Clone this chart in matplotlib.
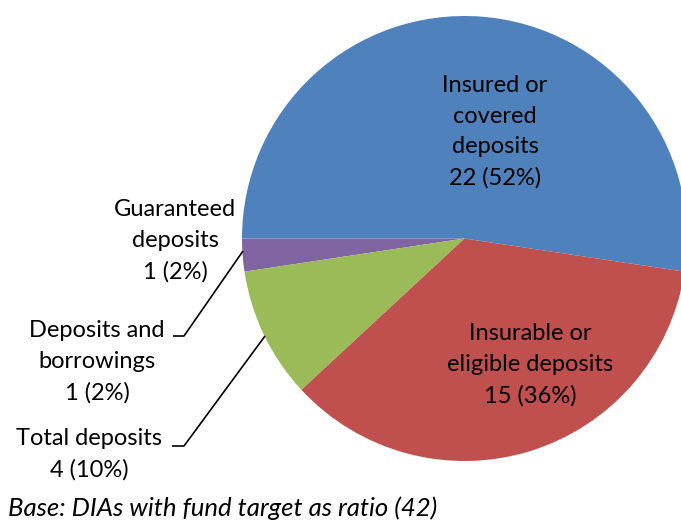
import matplotlib
matplotlib.use('Agg')
import matplotlib.pyplot as plt

labels = ['Insured or\ncovered\ndeposits', 'Guaranteed\ndeposits', 'Deposits and\nborrowings',
          'Total deposits', 'Insurable or\neligible deposits']
counts = [22, 1, 1, 4, 15]
# slice sizes as drawn in the source (the "Deposits and borrowings" wedge has no visible area)
slice_sizes = [22, 1, 0, 4, 15]
base_n = 42
colors = ['#4F81BD', '#8064A2', '#4BACC6', '#9BBB59', '#C0504D']

plt.rcParams['font.family'] = ['Lato', 'DejaVu Sans']

fig = plt.figure(figsize=(6.81, 5.22), dpi=100)
ax = fig.add_axes([0, 0, 1, 1])

cx, cy, r = 464.5, 522 - 238.5, 222.5
start = 180 - 360 * slice_sizes[0] / sum(slice_sizes)
wedges, _ = ax.pie(slice_sizes, colors=colors, startangle=start, counterclock=True,
                   center=(cx, cy), radius=r, wedgeprops=dict(linewidth=0))

ax.set_xlim(0, 681)
ax.set_ylim(0, 522)
ax.set_aspect('equal', adjustable='box')
ax.axis('off')

texts = [f'{lab}\n{n} ({round(100 * n / base_n)}%)' for lab, n in zip(labels, counts)]
# label positions in pixel coords (y measured from top)
label_pos = [(495, 132), (175, 241), (97, 362), (89, 454), (530, 365)]
for t, (x, y) in zip(texts, label_pos):
    ax.text(x, 522 - y, t, ha='center', va='center', fontsize=17, linespacing=1.57,
            color='black')

# leader lines
leaders = [
    [(173, 336), (184, 336), (243, 251)],
    [(172, 446), (184, 446), (265, 336)],
]
for pts in leaders:
    xs = [p[0] for p in pts]
    ys = [522 - p[1] for p in pts]
    ax.plot(xs, ys, color='black', linewidth=1.2, solid_capstyle='butt')

ax.text(8, 522 - 508, f'Base: DIAs with fund target as ratio ({base_n})', ha='left', va='center',
        fontsize=18.5, style='italic', color='black')

fig.savefig('out.png', dpi=100)
